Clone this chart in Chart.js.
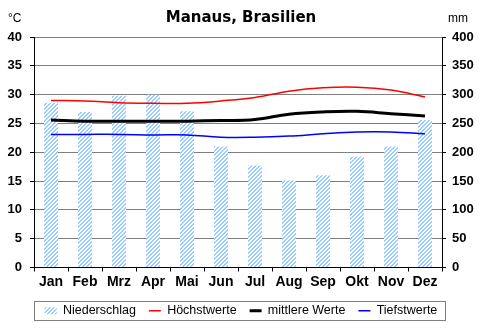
<!DOCTYPE html>
<html>
<head>
<meta charset="utf-8">
<script src="https://cdn.jsdelivr.net/npm/chart.js@4.4.0/dist/chart.umd.min.js"></script>
<style>
    html, body { margin: 0; padding: 0; background: #fff; }
    #wrap { width: 482px; height: 329px; }
</style>
</head>
<body>
<div id="wrap"><canvas id="klimaChart" width="482" height="329"></canvas></div>
<script>
const months = ['Jan', 'Feb', 'Mrz', 'Apr', 'Mai', 'Jun', 'Jul', 'Aug', 'Sep', 'Okt', 'Nov', 'Dez'];
const niederschlag = [286, 270, 298, 300, 271, 210, 177, 151, 160, 192, 210, 256];
const hoechstwerte = [29.0, 28.9, 28.6, 28.5, 28.5, 28.9, 29.5, 30.6, 31.2, 31.3, 30.8, 29.6];
const mittlereWerte = [25.6, 25.4, 25.4, 25.4, 25.4, 25.5, 25.7, 26.6, 27.0, 27.1, 26.7, 26.3];
const tiefstwerte = [23.1, 23.1, 23.1, 23.0, 23.0, 22.6, 22.6, 22.8, 23.2, 23.5, 23.5, 23.2];
const tempTicks = [0, 5, 10, 15, 20, 25, 30, 35, 40];
const mmTicks = [0, 50, 100, 150, 200, 250, 300, 350, 400];

// hatched fill for the precipitation bars
function makeHatch() {
    const c = document.createElement('canvas');
    c.width = 4;
    c.height = 4;
    const cx = c.getContext('2d');
    const img = cx.createImageData(4, 4);
    for (let y = 0; y < 4; y++) {
        for (let x = 0; x < 4; x++) {
            const i = (y * 4 + x) * 4;
            const on = (x + y) % 4 < 2;
            img.data[i] = on ? 153 : 255;
            img.data[i + 1] = on ? 204 : 255;
            img.data[i + 2] = 255;
            img.data[i + 3] = 255;
        }
    }
    cx.putImageData(img, 0, 0);
    return cx.createPattern(c, 'repeat');
}
const hatch = makeHatch();

// unit labels and the frame round the legend
const extrasPlugin = {
    id: 'extras',
    afterDraw(chart) {
        const ctx = chart.ctx;
        ctx.save();
        ctx.fillStyle = '#000';
        ctx.font = '12px "Liberation Sans", Arial, sans-serif';
        ctx.textBaseline = 'middle';
        ctx.textAlign = 'left';
        ctx.fillText('°C', 8, 19);
        ctx.fillText('mm', 448, 19);

        const boxes = chart.legend.legendHitBoxes;
        if (boxes && boxes.length) {
            const yc = boxes[0].top + boxes[0].height / 2;
            ctx.strokeStyle = '#808080';
            ctx.lineWidth = 1;
            ctx.strokeRect(Math.round(chart.chartArea.left) + 0.5, Math.round(yc - 10) + 0.5,
                Math.round(chart.chartArea.right - chart.chartArea.left + 3), 19);
        }
        ctx.restore();
    }
};

const tickFont = { family: '"Liberation Sans", Arial, sans-serif', size: 13, weight: 'bold' };

const config = {
    type: 'bar',
    data: {
        labels: months,
        datasets: [
            {
                label: 'Niederschlag',
                type: 'bar',
                data: niederschlag,
                yAxisID: 'yMm',
                backgroundColor: hatch,
                borderWidth: 0,
                barPercentage: 0.41,
                categoryPercentage: 1,
                order: 5,
            },
            {
                label: 'Höchstwerte',
                type: 'line',
                data: hoechstwerte,
                yAxisID: 'yTemp',
                borderColor: '#ff0000',
                borderWidth: 1.5,
                pointRadius: 0,
                tension: 0.4,
                order: 1,
            },
            {
                label: 'mittlere Werte',
                type: 'line',
                data: mittlereWerte,
                yAxisID: 'yTemp',
                borderColor: '#000000',
                borderWidth: 3,
                pointRadius: 0,
                tension: 0.4,
                order: 2,
            },
            {
                label: 'Tiefstwerte',
                type: 'line',
                data: tiefstwerte,
                yAxisID: 'yTemp',
                borderColor: '#0000ff',
                borderWidth: 1.5,
                pointRadius: 0,
                tension: 0.4,
                order: 3,
            },
        ],
    },
    options: {
        responsive: false,
        animation: false,
        layout: { padding: { top: 0, bottom: 2, left: 0, right: 0 } },
        plugins: {
            title: {
                display: true,
                text: 'Manaus, Brasilien',
                color: '#000',
                font: { family: '"DejaVu Sans", Tahoma, sans-serif', size: 15, weight: 'bold' },
                padding: { top: 9, bottom: 10 },
            },
            legend: {
                display: true,
                position: 'bottom',
                labels: {
                    color: '#000',
                    font: { family: '"Liberation Sans", Arial, sans-serif', size: 12.5 },
                    usePointStyle: true,
                    pointStyleWidth: 12,
                    boxHeight: 7,
                    padding: 13,
                    generateLabels(chart) {
                        return chart.data.datasets.map((ds, i) => ({
                            text: ds.label,
                            fillStyle: i === 0 ? hatch : ds.borderColor,
                            strokeStyle: i === 0 ? 'rgba(0,0,0,0)' : ds.borderColor,
                            lineWidth: i === 0 ? 0 : ds.borderWidth,
                            pointStyle: i === 0 ? 'rect' : 'line',
                            fontColor: '#000',
                            hidden: false,
                            datasetIndex: i,
                        }));
                    },
                },
            },
            tooltip: { enabled: false },
        },
        scales: {
            x: {
                offset: true,
                grid: {
                    display: true,
                    offset: true,
                    drawOnChartArea: false,
                    drawTicks: true,
                    tickLength: 4,
                    color: '#000',
                },
                border: { color: '#000', width: 1 },
                ticks: { color: '#000', font: { ...tickFont, size: 14 }, padding: 2 },
                afterFit(scale) { scale.height = 24; },
            },
            yTemp: {
                position: 'left',
                min: 0,
                max: 40,
                afterBuildTicks(scale) { scale.ticks = tempTicks.map(v => ({ value: v })); },
                grid: { color: '#808080', tickColor: '#000', tickLength: 4 },
                border: { color: '#000', width: 1 },
                ticks: { color: '#000', font: tickFont, padding: 8 },
                afterFit(scale) { scale.width = 34; },
            },
            yMm: {
                position: 'right',
                min: 0,
                max: 400,
                afterBuildTicks(scale) { scale.ticks = mmTicks.map(v => ({ value: v })); },
                grid: { drawOnChartArea: false, color: '#000', tickLength: 4 },
                border: { color: '#000', width: 1 },
                ticks: { color: '#000', font: tickFont, padding: 6 },
                afterFit(scale) { scale.width = 40; },
            },
        },
    },
    plugins: [extrasPlugin],
};

const ctx = document.getElementById('klimaChart').getContext('2d');
const klimaChart = new Chart(ctx, config);
</script>
</body>
</html>
